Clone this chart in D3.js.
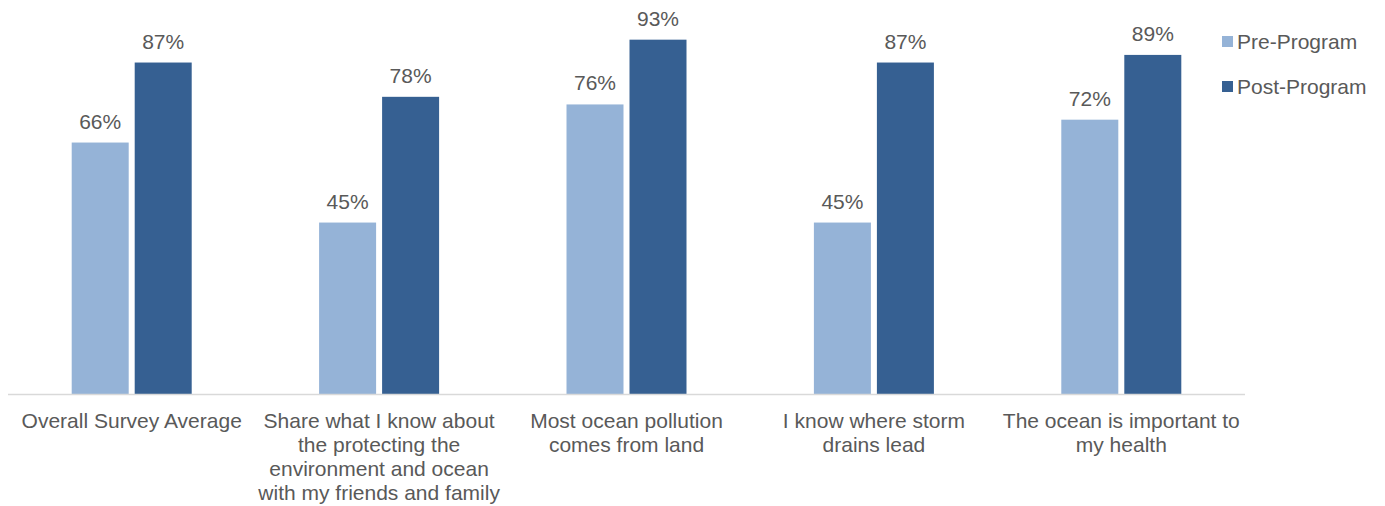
<!DOCTYPE html>
<html>
<head>
<meta charset="utf-8">
<script src="https://cdn.jsdelivr.net/npm/d3@7"></script>
<style>
  html, body { margin: 0; padding: 0; background: #fff; }
  svg { display: block; font-family: "Liberation Sans", Arial, sans-serif; }
</style>
</head>
<body>
<svg id="chart" width="1385" height="506"></svg>
<script>
// Survey statements (each entry is the wrapped label lines)
const categories = [
  ["Overall Survey Average"],
  ["Share what I know about", "the protecting the", "environment and ocean", "with my friends and family"],
  ["Most ocean pollution", "comes from land"],
  ["I know where storm", "drains lead"],
  ["The ocean is important to", "my health"]
];
const seriesNames = ["Pre-Program", "Post-Program"];
const preProgram  = [66, 45, 76, 45, 72];
const postProgram = [87, 78, 93, 87, 89];
const colors = ["#95b3d7", "#366092"];

const svg = d3.select("#chart");
const textColor = "#595959";
const fontSize = 21;

const x0 = d3.scaleBand()
  .domain(d3.range(categories.length))
  .range([8, 1245])
  .paddingInner(0)
  .paddingOuter(0);

const y = d3.scaleLinear().domain([0, 100]).range([394, 13]);

const barW = 57, gap = 6;
const x1 = d3.scaleOrdinal()
  .domain([0, 1])
  .range([-(barW + gap / 2), gap / 2]);

const data = categories.map((c, i) => ({
  i,
  values: [preProgram[i], postProgram[i]]
}));

const groups = svg.selectAll("g.group")
  .data(data)
  .join("g")
  .attr("class", "group")
  .attr("transform", d => `translate(${x0(d.i) + x0.bandwidth() / 2},0)`);

groups.selectAll("rect")
  .data(d => d.values.map((v, s) => ({ v, s })))
  .join("rect")
  .attr("x", d => x1(d.s))
  .attr("width", barW)
  .attr("y", d => y(d.v))
  .attr("height", d => y(0) - y(d.v))
  .attr("fill", d => colors[d.s]);

groups.selectAll("text.value")
  .data(d => d.values.map((v, s) => ({ v, s })))
  .join("text")
  .attr("class", "value")
  .attr("x", d => x1(d.s) + barW / 2)
  .attr("y", d => y(d.v) - 14)
  .attr("text-anchor", "middle")
  .attr("font-size", fontSize)
  .attr("fill", textColor)
  .text(d => d.v + "%");

// Baseline axis
svg.append("line")
  .attr("x1", x0.range()[0]).attr("x2", x0.range()[1])
  .attr("y1", y(0) + 0.5).attr("y2", y(0) + 0.5)
  .attr("stroke", "#d9d9d9").attr("stroke-width", 1.5);

// Category labels
groups.append("text")
  .attr("text-anchor", "middle")
  .attr("font-size", fontSize)
  .attr("fill", textColor)
  .selectAll("tspan")
  .data(d => categories[d.i])
  .join("tspan")
  .attr("x", 0)
  .attr("y", (d, k) => 428 + k * 24)
  .text(d => d);

// Legend
const legend = svg.append("g");
seriesNames.forEach((name, s) => {
  const cy = 41 + s * 45;
  legend.append("rect")
    .attr("x", 1222).attr("y", cy - 5)
    .attr("width", 11).attr("height", 11)
    .attr("fill", colors[s]);
  legend.append("text")
    .attr("x", 1237).attr("y", cy + 8)
    .attr("font-size", fontSize)
    .attr("fill", textColor)
    .text(name);
});
</script>
</body>
</html>
